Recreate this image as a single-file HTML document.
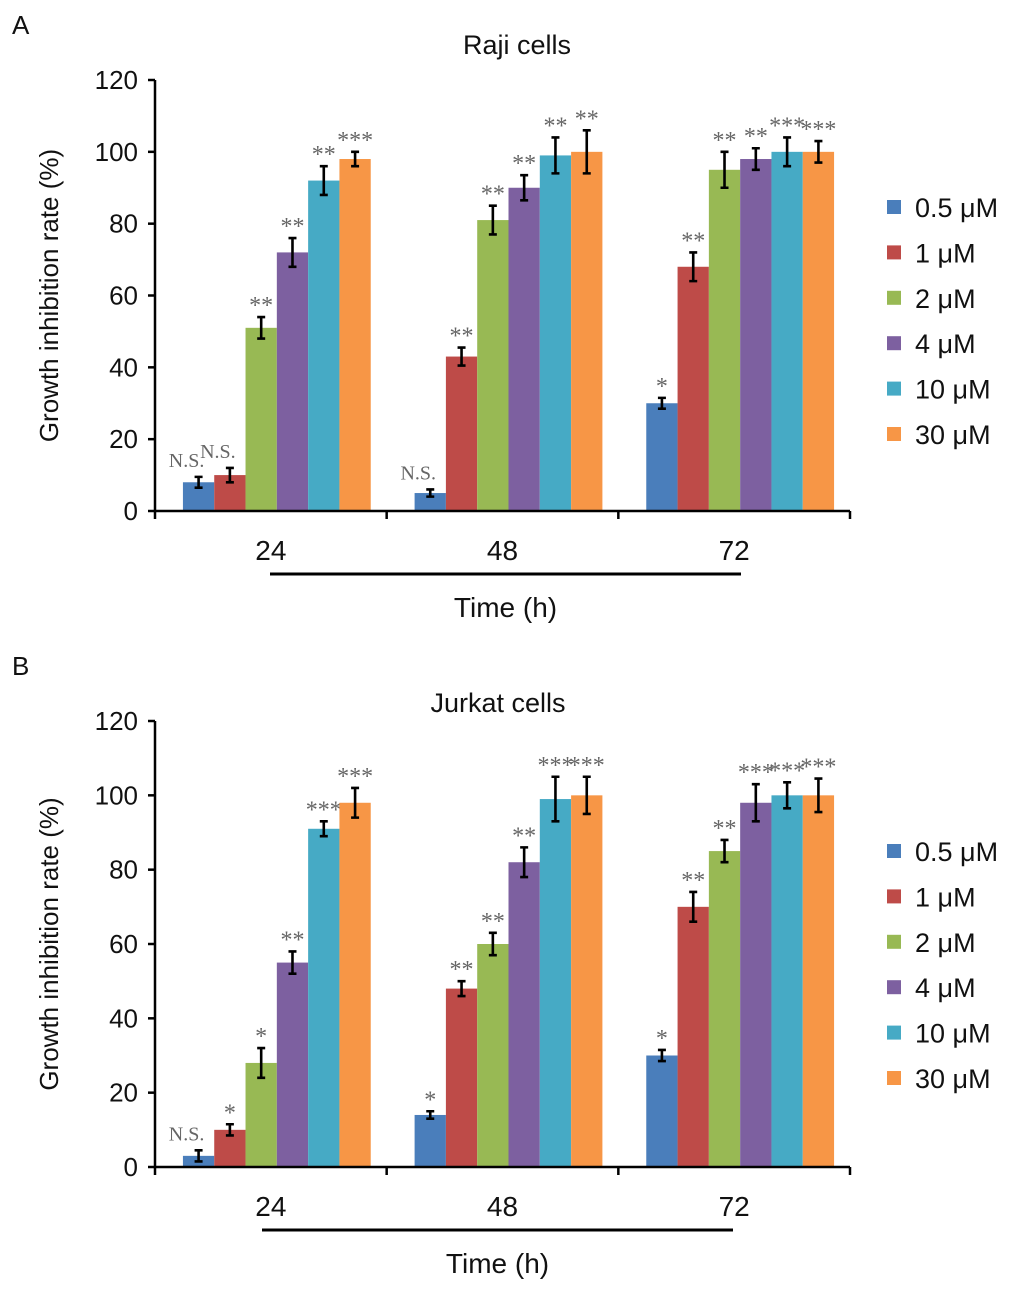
<!DOCTYPE html>
<html><head><meta charset="utf-8"><style>
body{margin:0;background:#fff}
svg{display:block;font-family:"Liberation Sans",sans-serif}
</style></head><body>
<svg id="chart" width="1027" height="1298" viewBox="0 0 1027 1298"></svg>
<script>
const categories = ["24","48","72"];
const seriesNames = ["0.5 μM","1 μM","2 μM","4 μM","10 μM","30 μM"];
const colors = ["#4a7ebb","#be4b48","#98b954","#7d60a0","#46aac5","#f79646"];
const yTicks = [0,20,40,60,80,100,120];
const rajiValues = [[8,10,51,72,92,98],[5,43,81,90,99,100],[30,68,95,98,100,100]];
const rajiErrors = [[1.5,2,3,4,4,2],[1,2.5,4,3.5,5,6],[1.5,4,5,3,4,3]];
const rajiSig = [["N.S.","N.S.","**","**","**","***"],["N.S.","**","**","**","**","**"],["*","**","**","**","***","***"]];
const jurkatValues = [[3,10,28,55,91,98],[14,48,60,82,99,100],[30,70,85,98,100,100]];
const jurkatErrors = [[1.5,1.5,4,3,2,4],[1,2,3,4,6,5],[1.5,4,3,5,3.5,4.5]];
const jurkatSig = [["N.S.","*","*","**","***","***"],["*","**","**","**","***","***"],["*","**","**","***","***","***"]];

const svg = document.getElementById('chart');
const NS = "http://www.w3.org/2000/svg";
function mk(tag, attrs, text){
  const e = document.createElementNS(NS, tag);
  for (const k in attrs) e.setAttribute(k, attrs[k]);
  if (text !== undefined) e.textContent = text;
  svg.appendChild(e);
  return e;
}

function panel(p){
  const x0 = 155, x1 = 850, y0 = p.base, yTop = p.top;
  const y = v => y0 - (v/120)*(y0-yTop);
  const gw = (x1-x0)/3, bw = 31.3;
  const gx = i => x0 + gw*i + (gw - bw*6)/2 + 6;
  let e;
  e = mk('text',{x:12,y:p.letterY,'font-size':26,fill:'#111'},p.letter);
   
  e = mk('text',{x:p.titleX,y:p.titleY,'font-size':27,'text-anchor':'middle',fill:'#111'},p.title);
   
  for (let g=0; g<3; g++){
    for (let s=0; s<6; s++){
      const v = p.values[g][s], er = p.errors[g][s];
      const bx = gx(g) + s*bw;
      e = mk('rect',{x:bx,y:y(v),width:bw,height:y0-y(v),fill:colors[s]});
       
      const cx = bx + bw/2;
      e = mk('path',{d:`M${cx},${y(v+er)}V${y(v-er)}M${cx-4},${y(v+er)}H${cx+4}M${cx-4},${y(v-er)}H${cx+4}`,stroke:'#000','stroke-width':2.6,fill:'none'});
       
      const lab = p.sig[g][s];
      const ns = lab === 'N.S.';
      e = mk('text',{x:cx - (ns?12:0),y:y(v+er)-(ns?10:4),'font-size':ns?20:24,'text-anchor':'middle',fill:'#666','font-family':'"Liberation Serif",serif'},lab);
       
    }
  }
  e = mk('path',{d:`M${x0},${yTop}V${y0}H${x1}`,stroke:'#000','stroke-width':2.5,fill:'none'});
   
  for (const t of yTicks){
    e = mk('line',{x1:x0-7,x2:x0,y1:y(t),y2:y(t),stroke:'#000','stroke-width':2.5});
     
    e = mk('text',{x:x0-17,y:y(t)+9,'font-size':26,'text-anchor':'end',fill:'#111'},String(t));
     
  }
  for (let g=0; g<=3; g++){
    const tx = x0+gw*g;
    e = mk('line',{x1:tx,x2:tx,y1:y0,y2:y0+8,stroke:'#000','stroke-width':2.5});
     
  }
  for (let g=0; g<3; g++){
    e = mk('text',{x:x0+gw*(g+0.5),y:y0+49,'font-size':28,'text-anchor':'middle',fill:'#111'},categories[g]);
     
  }
  e = mk('line',{x1:p.lineX1,x2:p.lineX2,y1:y0+63,y2:y0+63,stroke:'#000','stroke-width':3});
   
  e = mk('text',{x:(p.lineX1+p.lineX2)/2,y:y0+106,'font-size':28,'text-anchor':'middle',fill:'#111'},'Time (h)');
   
  const ym = (y0+yTop)/2;
  e = mk('text',{x:58,y:ym,'font-size':26,'text-anchor':'middle',fill:'#111',transform:`rotate(-90 58 ${ym})`},'Growth inhibition rate (%)');
   
  for (let s=0; s<6; s++){
    const ly = p.legY + s*45.4;
    e = mk('rect',{x:887,y:ly-7,width:14,height:14,fill:colors[s]});
     
    e = mk('text',{x:915,y:ly+10,'font-size':27,fill:'#111'},seriesNames[s]);
     
  }
}
panel({letter:'A',letterY:34,title:'Raji cells',titleX:517,titleY:54,base:511,top:80,values:rajiValues,errors:rajiErrors,sig:rajiSig,lineX1:270,lineX2:741,legY:207});
panel({letter:'B',letterY:675,title:'Jurkat cells',titleX:498,titleY:712,base:1167,top:721,values:jurkatValues,errors:jurkatErrors,sig:jurkatSig,lineX1:262,lineX2:733,legY:851});
</script>
</body></html>
